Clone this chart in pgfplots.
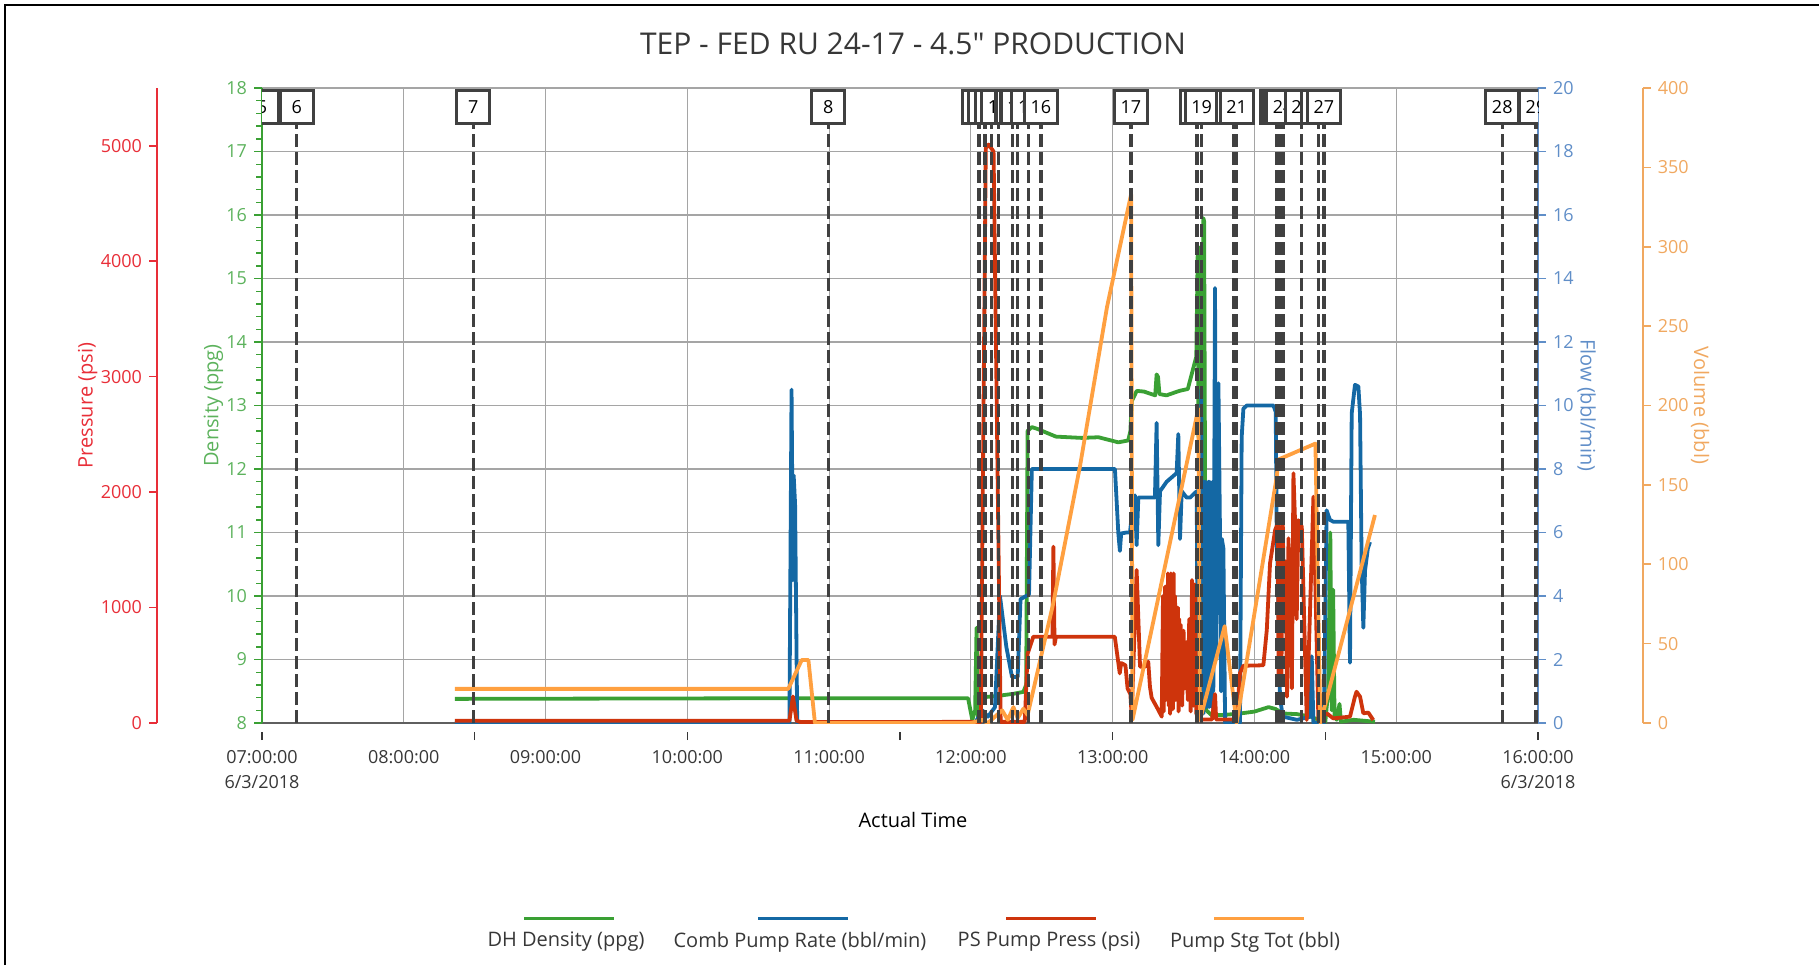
\documentclass[border=0pt]{standalone}
\usepackage{fontspec}
\setmainfont{Open Sans}[Ligatures=TeXOff]
\usepackage{pgfplots}
\pgfplotsset{compat=1.18}
\usepackage{pgfplotstable}
\usetikzlibrary{calc}

\definecolor{cGreen}{RGB}{58,160,52}
\definecolor{cGreenAx}{RGB}{92,178,92}
\definecolor{cBlue}{RGB}{20,104,164}
\definecolor{cBlueAx}{RGB}{96,142,200}
\definecolor{cRed}{RGB}{206,52,12}
\definecolor{cRedAx}{RGB}{232,46,56}
\definecolor{cOrange}{RGB}{255,160,64}
\definecolor{cOrangeAx}{RGB}{240,168,96}
\definecolor{cEvent}{RGB}{64,64,64}
\definecolor{cGrid}{RGB}{165,165,165}
\definecolor{cText}{RGB}{55,55,55}

\pgfplotstableread{
h d
8.36 8.38
10.70 8.39
11.98 8.39
12.01 8.05
12.03 8.2
12.04 9.5
12.05 8.1
12.06 8.40
12.20 8.43
12.30 8.46
12.37 8.49
12.39 8.6
12.40 12.6
12.43 12.66
12.47 12.63
12.60 12.51
12.78 12.49
12.90 12.50
13.04 12.42
13.11 12.45
13.125 12.6
13.135 13.07
13.17 13.23
13.22 13.22
13.30 13.16
13.31 13.49
13.32 13.45
13.33 13.18
13.38 13.16
13.47 13.23
13.53 13.26
13.59 13.77
13.60 15.45
13.605 12.5
13.61 15.45
13.615 11.0
13.62 15.5
13.63 12.0
13.64 15.95
13.645 15.9
13.65 12.9
13.655 9.0
13.66 8.2
13.70 8.12
13.80 8.13
13.90 8.15
14.00 8.18
14.10 8.25
14.15 8.22
14.20 8.15
14.30 8.14
14.40 8.10
14.45 8.05
14.50 8.02
14.52 8.5
14.535 11.0
14.545 8.2
14.555 10.1
14.565 8.1
14.58 8.05
14.60 8.3
14.61 8.02
14.70 8.05
14.85 8.02
}\greendata

\pgfplotstableread{
h f
8.36 0
10.72 0
10.735 10.5
10.745 4.5
10.75 7.8
10.76 6.9
10.775 0
12.03 0
12.08 0.4
12.12 0.2
12.17 0.5
12.205 4.0
12.25 2.4
12.29 1.45
12.33 1.45
12.35 3.9
12.41 4.05
12.43 8.0
13.016 8.0
13.040 5.97
13.051 5.42
13.06 5.97
13.098 6.0
13.122 6.0
13.146 7.0
13.157 7.17
13.169 5.6
13.181 7.1
13.216 7.1
13.298 7.1
13.310 9.45
13.322 5.6
13.334 7.3
13.381 7.6
13.451 7.87
13.463 9.1
13.475 5.8
13.487 7.3
13.522 7.1
13.546 7.1
13.593 7.3
13.60 0.5
13.605 7.6
13.61 1.0
13.615 7.6
13.62 0.5
13.625 10.5
13.63 1.0
13.635 7.6
13.64 0.3
13.645 7.6
13.65 1.0
13.655 7.6
13.66 0.5
13.665 7.5
13.67 1.0
13.675 7.6
13.68 0.5
13.685 7.6
13.69 1.0
13.695 7.5
13.70 0.5
13.705 7.6
13.71 1.0
13.722 13.7
13.73 2.0
13.735 7.5
13.746 10.7
13.757 6.0
13.765 1.0
13.77 5.8
13.781 5.5
13.793 0
13.898 0
13.91 9.0
13.922 9.9
13.946 10.0
14.134 10.0
14.15 9.8
14.157 6.1
14.17 3.5
14.18 0.8
14.20 0.2
14.30 0.1
14.395 0.2
14.404 2.1
14.416 0
14.49 0
14.509 6.7
14.532 6.4
14.556 6.34
14.662 6.34
14.674 1.9
14.686 9.75
14.709 10.65
14.733 10.6
14.745 9.7
14.756 5.0
14.768 3.0
14.78 4.8
14.80 5.5
14.815 5.7
}\bluedata

\pgfplotstableread{
h p
8.36 20
10.72 20
10.745 230
10.77 20
10.80 8
12.07 10
12.105 4980
12.125 5010
12.16 4950
12.21 10
12.38 10
12.40 600
12.44 747
12.575 747
12.582 1527
12.59 680
12.60 747
13.015 747
13.05 430
13.06 520
13.09 500
13.105 300
13.125 250
13.134 60
13.169 1325
13.193 488
13.228 488
13.251 531
13.263 314
13.275 218
13.322 113
13.346 55
13.355 1100
13.36 100
13.37 1181
13.375 200
13.38 1050
13.385 300
13.39 1296
13.395 150
13.40 1200
13.405 80
13.41 1296
13.415 400
13.42 1000
13.425 120
13.43 1296
13.435 500
13.44 1100
13.445 200
13.45 951
13.455 300
13.46 1000
13.465 100
13.47 900
13.475 250
13.48 850
13.49 150
13.50 800
13.51 300
13.52 700
13.53 200
13.54 900
13.55 100
13.56 1238
13.57 150
13.58 1200
13.59 84
13.604 30
13.70 30
13.722 251
13.73 30
13.875 30
13.898 434
13.922 496
14.063 500
14.087 805
14.11 1383
14.146 1672
14.165 1729
14.17 372
14.18 1700
14.19 400
14.20 1729
14.21 800
14.22 1400
14.23 228
14.24 1600
14.264 300
14.275 2163
14.287 1729
14.298 900
14.31 1757
14.334 1700
14.369 26
14.416 1960
14.451 26
14.51 84
14.556 40
14.674 55
14.709 228
14.72 271
14.745 228
14.768 84
14.803 90
14.838 26
}\reddata

\pgfplotstableread{
h v
8.36 21.5
10.712 21.5
10.807 39.7
10.854 39.7
10.90 0
12.00 0
12.08 2
12.12 0
12.22 8
12.26 2
12.30 10
12.33 3
12.37 9
12.40 5
12.58 75
12.77 162
12.96 262
13.13 333
13.14 2
13.604 198
13.616 2
13.79 61
13.874 0
14.157 155
14.17 166
14.43 176
14.465 0
14.85 131
}\orangedata

\tikzset{
  evbox/.style={anchor=south, solid, draw=cEvent, line width=1.6pt,
    fill=white, minimum width=16.5pt, minimum height=16.5pt, inner sep=0pt, text=black,
    font=\fontsize{9}{10}\selectfont},
}
\pgfplotsset{
  every tick label/.append style={font=\fontsize{9}{11}\selectfont},
  /pgf/number format/assume math mode=true,
  /pgf/number format/1000 sep={},
  plotarea/.style={at={(131pt,121pt)}, anchor=south west, scale only axis,
    width=638pt, height=317.5pt, xmin=7, xmax=16},
  series/.style={line width=1.9pt, line join=round, mark=none},
  every axis label/.append style={font=\fontsize{10}{12}\selectfont},
}

\begin{document}
\begin{tikzpicture}
\useasboundingbox (0,0) rectangle (909.5pt,482.5pt);
\draw[line width=1.2pt] (2.5pt,0) -- (2.5pt,480pt) -- (909.5pt,480pt);
\node[font=\fontsize{15}{18}\selectfont, text=cText] at (456.5pt,460.5pt) {TEP - FED RU 24-17 - 4.5" PRODUCTION};

% main axis: density (green), time axis, grid
\begin{axis}[plotarea, ymin=8, ymax=18,
  axis x line*=bottom, axis y line*=left,
  x axis line style={draw=cText!80, line width=0.8pt},
  y axis line style={draw=cGreen, line width=1pt},
  xtick={7,8,...,16},
  xticklabels={{07:00:00\\6/3/2018},08:00:00,09:00:00,10:00:00,11:00:00,12:00:00,13:00:00,14:00:00,15:00:00,{16:00:00\\6/3/2018}},
  xticklabel style={align=center, text=cText, font=\fontsize{9}{12.75}\selectfont, yshift=-6pt},
  major x tick style={draw=none},
  extra x ticks={7,8.5,10,11.5,13,14.5,16},
  extra x tick labels={},
  extra x tick style={grid=none, major x tick style={draw=cText, line width=0.6pt, yshift=-4.5pt}},
  xmajorgrids=true, ymajorgrids=true,
  grid style={draw=cGrid, line width=0.6pt},
  ytick={8,9,...,18}, minor y tick num=4,
  tick align=outside, major tick length=4pt, minor tick length=3pt,
  major y tick style={draw=cGreen, line width=0.8pt},
  minor y tick style={draw=cGreen, line width=0.7pt},
  yticklabel style={text=cGreenAx},
  ylabel={Density (ppg)},
  ylabel style={at={($(axis description cs:0,0.5)+(-24.3pt,0)$)}, anchor=center, text=cGreenAx},
  xlabel={Actual Time},
  xlabel style={at={($(axis description cs:0.5,0)+(6.5pt,-48.5pt)$)}, anchor=center, text=black},
]
\addplot[series, cGreen] table[x=h, y=d] {\greendata};
\end{axis}

% flow (blue)
\begin{axis}[plotarea, ymin=0, ymax=20,
  axis x line=none, axis y line*=right,
  y axis line style={draw=cBlueAx, line width=1pt},
  ytick={0,2,...,20}, tick align=outside, major tick length=4pt,
  major y tick style={draw=cBlueAx, line width=0.8pt},
  yticklabel style={text=cBlueAx},
  ylabel={Flow (bbl/min)},
  ylabel style={at={($(axis description cs:1,0.5)+(24.3pt,0)$)}, anchor=center, rotate=180, text=cBlueAx},
]
\addplot[series, cBlue] table[x=h, y=f] {\bluedata};
\end{axis}

% pressure (red) data
\begin{axis}[plotarea, hide axis, ymin=0, ymax=5500]
\addplot[series, cRed] table[x=h, y=p] {\reddata};
\end{axis}

% volume (orange) data
\begin{axis}[plotarea, hide axis, ymin=0, ymax=400]
\addplot[series, cOrange] table[x=h, y=v] {\orangedata};
\end{axis}

% events
\begin{axis}[plotarea, hide axis, ymin=8, ymax=18, clip marker paths=true]
% event 5 sits on the left edge: only its (clipped) box shows
\addplot[ycomb, mark=none, draw=none,
  nodes near coords, point meta=explicit symbolic,
  every node near coord/.append style={evbox}]
coordinates {(7.0,17.42) [5]};
\addplot[ycomb, mark=none, draw=cEvent, line width=1.6pt, dash pattern=on 6.5pt off 2.5pt,
  nodes near coords, point meta=explicit symbolic,
  every node near coord/.append style={evbox}]
coordinates {
(7.245,17.42) [6]
(8.49,17.42) [7]
(10.994,17.42) [8]
(12.057,17.42) [9]
(12.099,17.42) [10]
(12.147,17.42) [11]
(12.193,17.42) [12]
(12.293,17.42) [13]
(12.329,17.42) [14]
(12.405,17.42) [15]
(12.494,17.42) [16]
(13.129,17.42) [17]
(13.595,17.42) [18]
(13.628,17.42) [19]
(13.851,17.42) [20]
(13.875,17.42) [21]
(14.157,17.42) [22]
(14.18,17.42) [23]
(14.203,17.42) [24]
(14.333,17.42) [25]
(14.45,17.42) [26]
(14.49,17.42) [27]
(15.748,17.42) [28]
(15.986,17.42) [29]
};
\end{axis}

% pressure scale (left, offset)
\begin{axis}[at={(78.5pt,121pt)}, anchor=south west, scale only axis, width=1pt, height=317.5pt,
  xmin=0, xmax=1, ymin=0, ymax=5500,
  axis x line=none, axis y line*=left,
  y axis line style={draw=cRedAx, line width=1pt},
  ytick={0,1000,...,5000}, scaled y ticks=false,
  tick align=outside, major tick length=4pt,
  major y tick style={draw=cRedAx, line width=0.8pt},
  yticklabel style={text=cRedAx},
  ylabel={Pressure (psi)},
  ylabel style={at={($(axis description cs:0,0.5)+(-34.7pt,0)$)}, anchor=center, text=cRedAx},
]
\addplot[draw=none] coordinates {(0,0)};
\end{axis}

% volume scale (right, offset)
\begin{axis}[at={(821.35pt,121pt)}, anchor=south east, scale only axis, width=1pt, height=317.5pt,
  xmin=0, xmax=1, ymin=0, ymax=400,
  axis x line=none, axis y line*=right,
  y axis line style={draw=cOrangeAx, line width=1pt},
  ytick={0,50,...,400},
  tick align=outside, major tick length=4pt,
  major y tick style={draw=cOrangeAx, line width=0.8pt},
  yticklabel style={text=cOrangeAx},
  ylabel={Volume (bbl)},
  ylabel style={at={($(axis description cs:1,0.5)+(28.7pt,0)$)}, anchor=center, rotate=180, text=cOrangeAx},
]
\addplot[draw=none] coordinates {(0,0)};
\end{axis}

% legend
\draw[cGreen, line width=1.5pt] (262pt,23.2pt) -- (307pt,23.2pt);
\draw[cBlue, line width=1.5pt] (379pt,23.2pt) -- (424pt,23.2pt);
\draw[cRed, line width=1.5pt] (503pt,23.2pt) -- (548pt,23.2pt);
\draw[cOrange, line width=1.5pt] (607pt,23.2pt) -- (652pt,23.2pt);
\begin{scope}[every node/.style={font=\fontsize{10}{12}\selectfont, text=cText}]
\node at (283pt,11.5pt) {DH Density (ppg)};
\node at (400pt,11.5pt) {Comb Pump Rate (bbl/min)};
\node at (524.5pt,11.5pt) {PS Pump Press (psi)};
\node at (627.5pt,11.5pt) {Pump Stg Tot (bbl)};
\end{scope}
\end{tikzpicture}
\end{document}
